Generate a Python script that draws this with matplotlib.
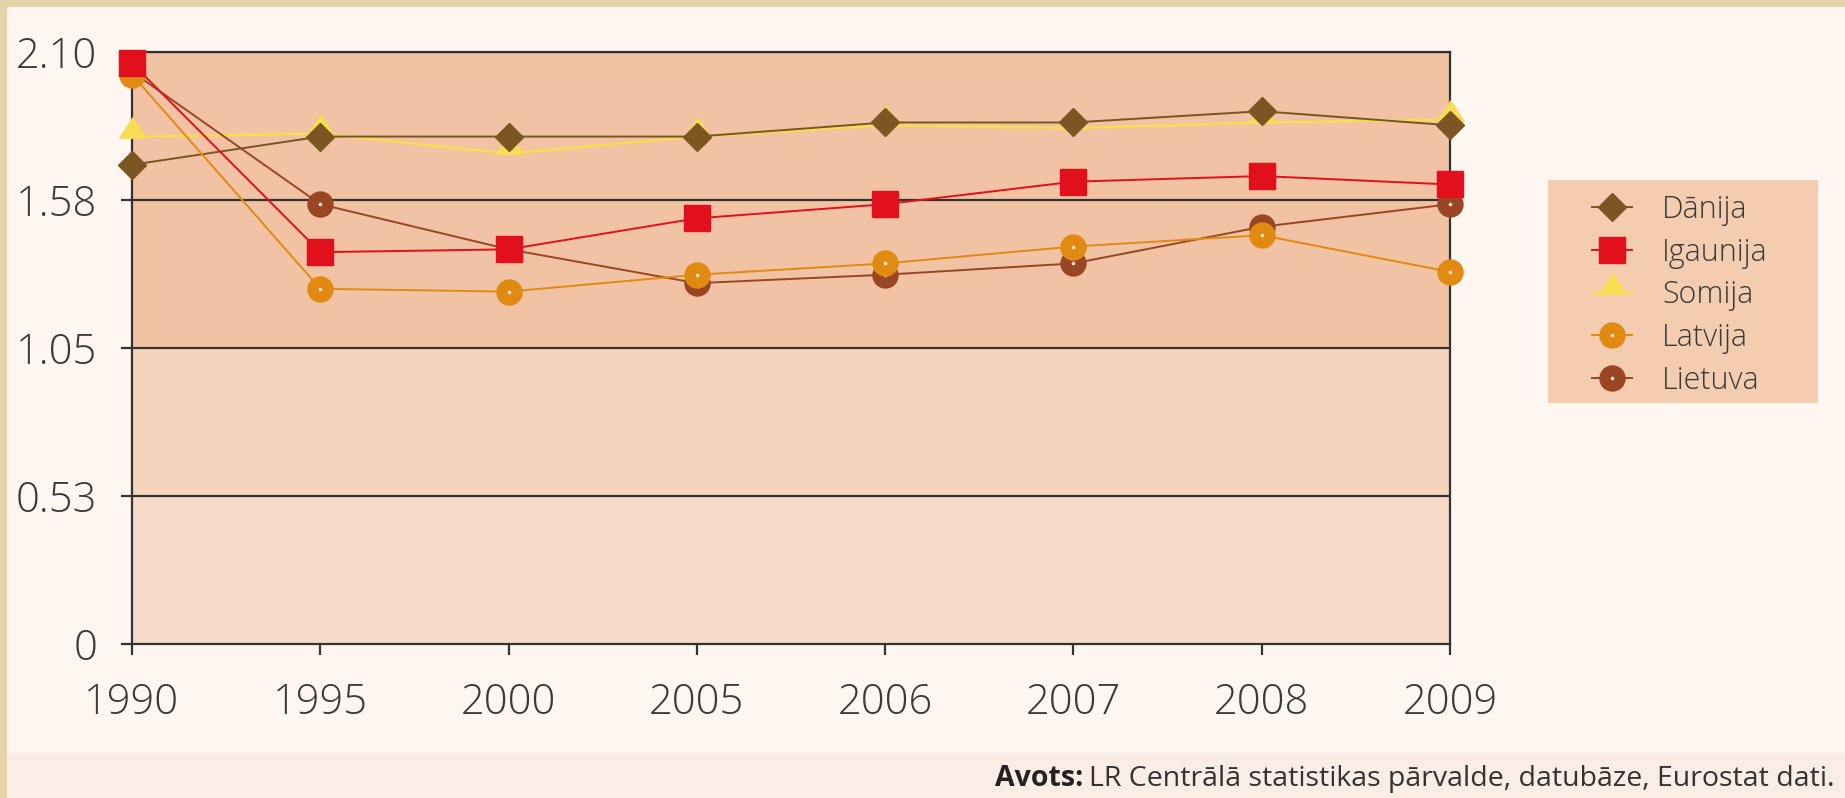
import numpy as np
import matplotlib as mpl
import matplotlib.pyplot as plt
from matplotlib.patches import Rectangle

plt.rcParams['font.family'] = ['Open Sans', 'DejaVu Sans']

# total fertility rate by country
years = ['1990', '1995', '2000', '2005', '2006', '2007', '2008', '2009']
danija = [1.70, 1.80, 1.80, 1.80, 1.85, 1.85, 1.89, 1.84]
igaunija = [2.06, 1.39, 1.40, 1.51, 1.56, 1.64, 1.66, 1.63]
somija = [1.80, 1.81, 1.74, 1.80, 1.84, 1.83, 1.85, 1.86]
latvija = [2.02, 1.26, 1.25, 1.31, 1.35, 1.41, 1.45, 1.32]
lietuva = [2.03, 1.56, 1.40, 1.28, 1.31, 1.35, 1.48, 1.56]

y_ticks = [0, 0.525, 1.05, 1.575, 2.10]
y_labels = ['0', '0.53', '1.05', '1.58', '2.10']
source_bold = 'Avots:'
source_text = 'LR Centrālā statistikas pārvalde, datubāze, Eurostat dati.'

W, H = 1845.0, 798.0
fig = plt.figure(figsize=(W / 100, H / 100), dpi=100)
fig.patch.set_facecolor('#e6d2a8')

def px_rect(x0, y0, x1, y1, color):
    # rectangle given in pixels from the top-left corner
    r = Rectangle((x0 / W, 1 - y1 / H), (x1 - x0) / W, (y1 - y0) / H,
                  transform=fig.transFigure, facecolor=color, edgecolor='none',
                  zorder=-10)
    fig.patches.append(r)

# light panel, pinker strip at the bottom, legend box
px_rect(7, 7, W, H, '#fdf6f1')
px_rect(7, 753, W, H, '#faede5')
px_rect(1548, 180, 1818, 403, '#f4ccb0')

ax = fig.add_axes([132 / W, 1 - 644 / H, (1450 - 132) / W, (644 - 52) / H])
ax.set_facecolor('none')
x = np.arange(len(years))

# background bands
ax.axhspan(1.05, 2.10, color='#f1c2a3', zorder=0, lw=0)
ax.axhspan(0.525, 1.05, color='#f5d3bc', zorder=0, lw=0)
ax.axhspan(0, 0.525, color='#f6dac7', zorder=0, lw=0)
for v in y_ticks[1:]:
    ax.axhline(v, color='#333333', lw=1.6, zorder=1)

tri = [(-1, -0.05), (1, -0.05), (0, 1.5)]
ring_face = '#f8dcc4'
lw = 1.4

ax.plot(x, somija, color='#f8dc52', lw=lw + 0.4, marker=tri, ms=29, mec='#f8dc52',
        mfc='#f8dc52', zorder=3, clip_on=False, label='Somija')
ax.plot(x, danija, color='#7b5522', lw=lw, marker='D', ms=14, mec='#7b5522',
        mfc='#7b5522', zorder=4, clip_on=False, label='Dānija')
ax.plot(x, lietuva, color='#9a4624', lw=lw, marker='o', ms=11, mew=8,
        mec='#9a4624', mfc=ring_face, zorder=5, clip_on=False, label='Lietuva')
ax.plot(x, latvija, color='#e08a12', lw=lw, marker='o', ms=11, mew=8,
        mec='#e08a12', mfc=ring_face, zorder=6, clip_on=False, label='Latvija')
ax.plot(x, igaunija, color='#e2101c', lw=lw, marker='s', ms=19, mec='#e2101c',
        mfc='#e2101c', zorder=7, clip_on=False, label='Igaunija')

ax.set_xlim(0, len(years) - 1)
ax.set_ylim(0, 2.10)
ax.set_xticks(x)
ax.set_xticklabels(years, fontweight='light')
ax.set_yticks(y_ticks)
ax.set_yticklabels(y_labels, fontweight='light')
ax.tick_params(axis='both', direction='out', length=8, width=1.6, color='#333333',
               labelsize=30, labelcolor='#3a3a3a')
ax.tick_params(axis='y', pad=17)
ax.tick_params(axis='x', pad=19)
for s in ax.spines.values():
    s.set_color('#333333')
    s.set_linewidth(1.6)

handles, labels = ax.get_legend_handles_labels()
order = ['Dānija', 'Igaunija', 'Somija', 'Latvija', 'Lietuva']
hmap = dict(zip(labels, handles))
leg = fig.legend([hmap[k] for k in order], order, loc='upper left',
                 bbox_to_anchor=(1592 / W, 1 - 194 / H), fontsize=22,
                 frameon=False, handlelength=1.3, handletextpad=1.0,
                 labelspacing=0.35, borderpad=0, borderaxespad=0,
                 markerscale=1.0)
for t in leg.get_texts():
    t.set_color('#3a3a3a')
    t.set_fontweight('light')

# source note, bold prefix placed left of the plain text
renderer = fig.canvas.get_renderer()
base_y = 1 - 786 / H
src = fig.text(1835 / W, base_y, source_text, ha='right', va='baseline',
               fontsize=20.5, color='#333333')
bb = src.get_window_extent(renderer)
fig.text((bb.x0 - 6) / W, base_y, source_bold, ha='right', va='baseline',
         fontsize=20.5, fontweight='bold', color='#222222')

fig.savefig('out.png', dpi=100, facecolor=fig.get_facecolor())
